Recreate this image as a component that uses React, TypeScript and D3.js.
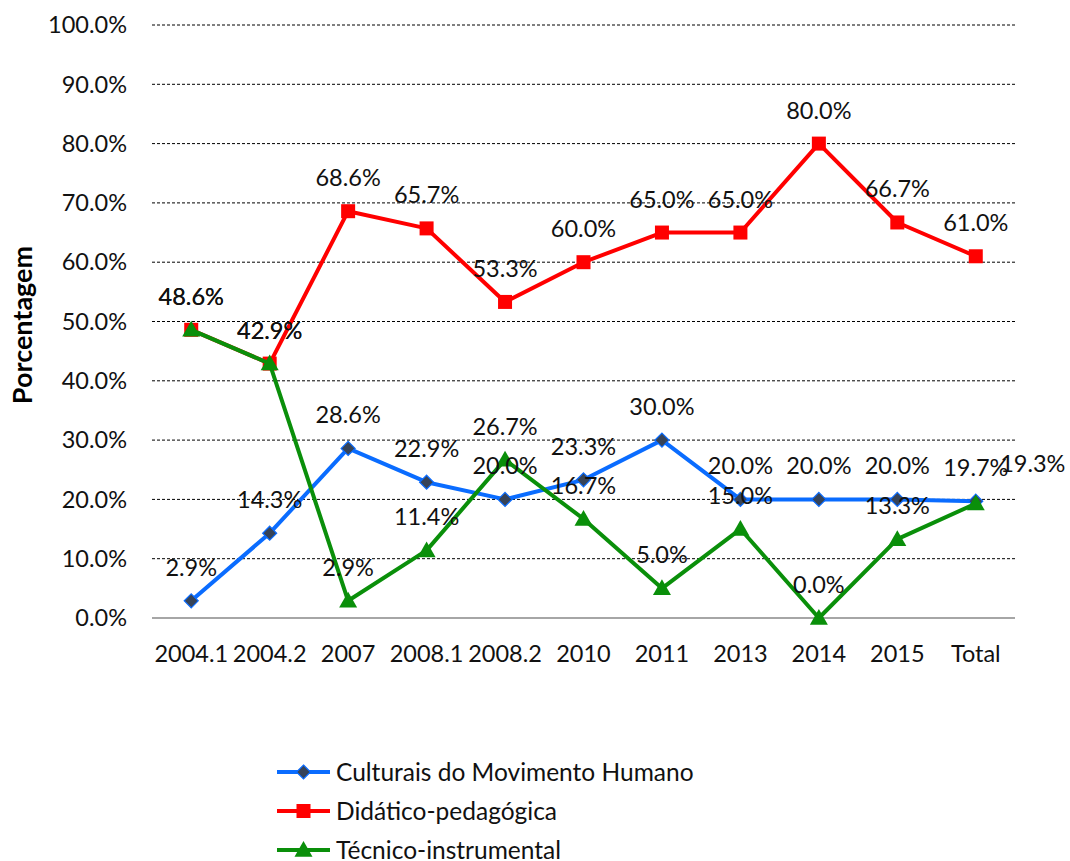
import React from "react";
import * as d3 from "d3";

const categories = ["2004.1", "2004.2", "2007", "2008.1", "2008.2", "2010", "2011", "2013", "2014", "2015", "Total"];
const culturais = [2.9, 14.3, 28.6, 22.9, 20.0, 23.3, 30.0, 20.0, 20.0, 20.0, 19.7];
const didatico = [48.6, 42.9, 68.6, 65.7, 53.3, 60.0, 65.0, 65.0, 80.0, 66.7, 61.0];
const tecnico = [48.6, 42.9, 2.9, 11.4, 26.7, 16.7, 5.0, 15.0, 0.0, 13.3, 19.3];
const yTicks = [0, 10, 20, 30, 40, 50, 60, 70, 80, 90, 100];
const seriesNames = ["Culturais do Movimento Humano", "Didático-pedagógica", "Técnico-instrumental"];

const W = 1070, H = 861;
const FONT = "Lato, 'Open Sans', sans-serif";
const FS = 23.5;

export default function App() {
  const x = d3.scalePoint<string>().domain(categories).range([152, 1015]).padding(0.5);
  const y = d3.scaleLinear().domain([0, 100]).range([618, 25]);
  const line = d3.line<number>().x((_, i) => x(categories[i])!).y((d) => y(d));

  const series = [
    { name: seriesNames[0], values: culturais, color: "#0A6CFF", marker: "diamond" },
    { name: seriesNames[1], values: didatico, color: "#FF0000", marker: "square" },
    { name: seriesNames[2], values: tecnico, color: "#0A8F0A", marker: "triangle" },
  ];

  const marker = (kind: string, cx: number, cy: number, color: string, key: any) => {
    if (kind === "diamond") {
      const s = 7;
      return <path key={key} d={`M${cx},${cy - s}L${cx + s},${cy}L${cx},${cy + s}L${cx - s},${cy}Z`} fill="#364358" stroke={color} strokeWidth={1.2} />;
    }
    if (kind === "square") {
      return <rect key={key} x={cx - 7} y={cy - 7} width={14} height={14} fill={color} />;
    }
    const s = 9;
    return <path key={key} d={`M${cx},${cy - s}L${cx + s},${cy + s * 0.75}L${cx - s},${cy + s * 0.75}Z`} fill={color} />;
  };

  const labelOffset = (si: number, i: number) => {
    if (si === 2 && i === categories.length - 1) return { dx: 57, dy: -32 };
    return { dx: 0, dy: -25 };
  };

  return (
    <div style={{ position: "absolute", left: 0, top: 0 }}>
      <svg width={W} height={H} style={{ display: "block", background: "#fff" }} fontFamily={FONT}>
        {yTicks.map((t) => (
          <g key={t}>
            {t > 0 && (
              <line x1={152} x2={1015} y1={y(t)} y2={y(t)} stroke="#000" strokeWidth={1} strokeDasharray="3,2" />
            )}
            <text x={127} y={y(t)} dy="0.35em" textAnchor="end" fontSize={FS} fill="#111">
              {t.toFixed(1)}%
            </text>
          </g>
        ))}
        <line x1={152} x2={1015} y1={y(0)} y2={y(0)} stroke="#888" strokeWidth={1.5} />
        {categories.map((c) => (
          <text key={c} x={x(c)} y={654} dy="0.35em" textAnchor="middle" fontSize={FS} fill="#111">
            {c}
          </text>
        ))}
        <text transform="translate(23,325) rotate(-90)" textAnchor="middle" dy="0.35em" fontSize={27} fontWeight="bold" fill="#000">
          Porcentagem
        </text>
        {series.map((s) => (
          <g key={s.name}>
            <path d={line(s.values)!} fill="none" stroke={s.color} strokeWidth={4} strokeLinejoin="round" />
            {s.values.map((v, i) => marker(s.marker, x(categories[i])!, y(v), s.color, i))}
          </g>
        ))}
        {series.map((s, si) =>
          s.values.map((v, i) => {
            const o = labelOffset(si, i);
            return (
              <text key={`${si}-${i}`} x={x(categories[i])! + o.dx} y={y(v) + o.dy} textAnchor="middle" fontSize={FS} fill="#111">
                {v.toFixed(1)}%
              </text>
            );
          })
        )}
        {series.map((s, si) => {
          const ly = 772 + si * 39;
          return (
            <g key={s.name}>
              <line x1={277} x2={330} y1={ly} y2={ly} stroke={s.color} strokeWidth={4} />
              {marker(s.marker, 303.5, ly, s.color, "m")}
              <text x={336} y={ly} dy="0.35em" fontSize={24.5} fill="#111">
                {s.name}
              </text>
            </g>
          );
        })}
      </svg>
    </div>
  );
}
